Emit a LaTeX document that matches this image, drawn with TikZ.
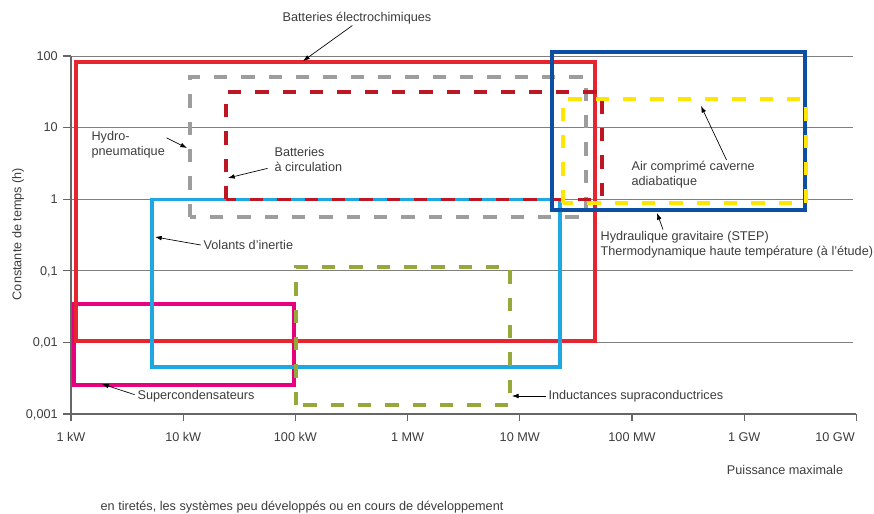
\documentclass[tikz,border=0pt]{standalone}
\usepackage{fontspec}
\setmainfont{Liberation Sans}
\usetikzlibrary{arrows.meta}

\definecolor{battred}{HTML}{E52530}
\definecolor{circred}{HTML}{BE1622}
\definecolor{hydgray}{HTML}{9D9D9C}
\definecolor{volcyan}{HTML}{1EA7E1}
\definecolor{supmag}{HTML}{E6007E}
\definecolor{indolive}{HTML}{95A83A}
\definecolor{stepblue}{HTML}{0B4EA2}
\definecolor{airyellow}{HTML}{FFE500}
\definecolor{textgray}{HTML}{3C3C3B}
\definecolor{gridgray}{HTML}{7F7F7F}

\begin{document}
\begin{tikzpicture}[x=84.15pt, y=53.7pt,
    font=\fontsize{9.5}{11.2}\selectfont, text=textgray,
    axis/.style={draw=gridgray!80!black, line width=0.8pt},
    solidbox/.style={line width=2.5pt},
    dashbox/.style={line width=2.5pt, dash pattern=on 10pt off 10.5pt},
    lab/.style={inner sep=1pt, align=left, anchor=west},
    ticklab/.style={inner sep=1pt, text height=1.5ex, text depth=0.25ex},
    pointer/.style={line width=0.5pt, black, -{Latex[length=5pt,width=3.5pt]}}]
  \useasboundingbox (-0.633,-1.397) rectangle (7.157,5.782);

  % grid lines and axes
  \foreach \y in {1,...,5}
    \draw[gridgray, line width=0.6pt] (0,\y) -- (6.97,\y);
  \draw[axis] (0,5) -- (0,0) -- (7,0);
  \foreach \y/\val in {0/{0,001},1/{0,01},2/{0,1},3/1,4/10,5/100} {
    \draw[axis] (0,\y) -- (-0.071,\y);
    \node[ticklab, anchor=east] (yt\y) at (-0.105,\y) {\val};
  }
  \foreach \x/\val in {0/1 kW,1/10 kW,2/100 kW,3/1 MW,4/10 MW,5/100 MW,6/1 GW} {
    \draw[axis] (\x,0) -- (\x,-0.098);
    \node[ticklab] (xt\x) at (\x,-0.321) {\val};
  }
  \draw[axis] (7,0) -- (7,-0.098);
  \node[ticklab, anchor=east] (xt7) at (7,-0.321) {10 GW};
  \node[rotate=90] (ylab) at (-0.472,2.514) {Constante de temps (h)};
  \node (xlab) at (6.364,-0.782) {Puissance maximale};

  % storage domains
  \draw[solidbox, supmag] (0.027,0.405) rectangle (1.988,1.536);
  \draw[solidbox, battred] (0.045,1.02) rectangle (4.670,4.916);
  \draw[solidbox, volcyan] (0.722,0.656) rectangle (4.358,3);
  \draw[dashbox, hydgray] (1.061,2.751) rectangle (4.590,4.707);
  \draw[dashbox, circred] (1.381,3) rectangle (4.733,4.497);
  \draw[dashbox, indolive] (2.005,0.126) rectangle (3.913,2.053);
  \draw[solidbox, stepblue] (4.287,2.849) rectangle (6.542,5.056);
  \draw[dashbox, airyellow] (4.385,2.947) rectangle (6.55,4.399);

  % labels
  \node[inner sep=1pt] (labBE) at (2.549,5.531) {Batteries électrochimiques};
  \node[lab] (labHP) at (0.169,3.764) {Hydro-\\pneumatique};
  \node[lab] (labBC) at (1.800,3.561) {Batteries\\à circulation};
  \node[lab] (labVI) at (1.168,2.360) {Volants d’inertie};
  \node[lab] (labAC) at (4.982,3.338) {Air comprimé caverne\\adiabatique};
  \node[lab] (labHG) at (4.706,2.367) {Hydraulique gravitaire (STEP)\\Thermodynamique haute température (à l’étude)};
  \node[lab] (labSC) at (0.579,0.251) {Supercondensateurs};
  \node[lab] (labIS) at (4.242,0.251) {Inductances supraconductrices};
  \node[lab] (note) at (0.250,-1.299) {en tiretés, les systèmes peu développés ou en cours de développement};

  % arrow targets on the boxes
  \coordinate (atBE) at (2.068,4.930);
  \coordinate (atHP) at (1.034,3.715);
  \coordinate (atBC) at (1.399,3.296);
  \coordinate (atVI) at (0.749,2.472);
  \coordinate (atAC) at (5.615,4.302);
  \coordinate (atHG) at (5.223,2.807);
  \coordinate (atSC) at (0.276,0.419);
  \coordinate (atIS) at (3.930,0.251);

  \draw[pointer] ([xshift=-3.5pt]labBE.south) -- (atBE);
  \draw[pointer] ([yshift=5pt]labHP.east) -- (atHP);
  \draw[pointer] ([xshift=-4pt,yshift=-7pt]labBC.west) -- (atBC);
  \draw[pointer] ([xshift=-1pt]labVI.west) -- (atVI);
  \draw[pointer] ([xshift=25pt]labAC.north) -- (atAC);
  \draw[pointer] ([xshift=48pt]labHG.north west) -- (atHG);
  \draw[pointer] ([xshift=-1pt,yshift=1pt]labSC.west) -- (atSC);
  \draw[pointer] ([xshift=-1pt]labIS.west) -- (atIS);
\end{tikzpicture}
\end{document}
